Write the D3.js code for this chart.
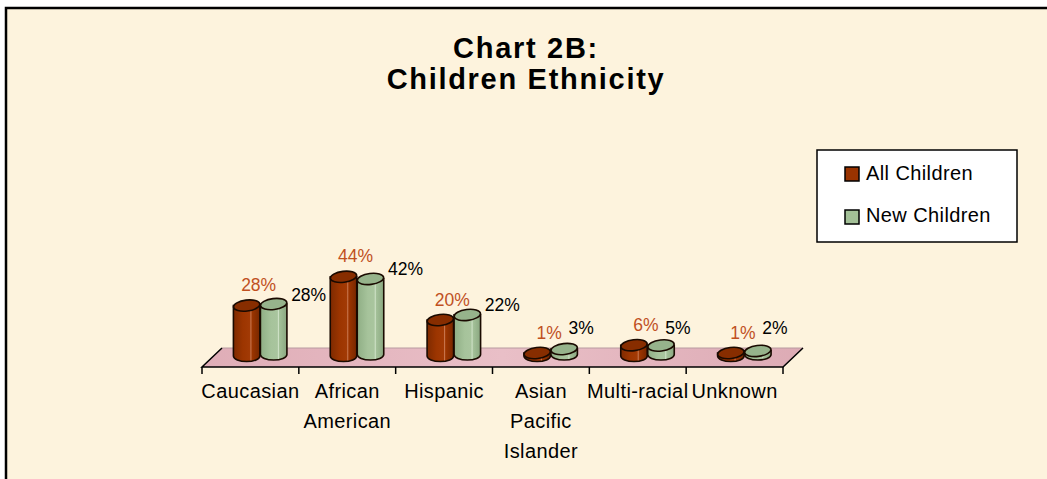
<!DOCTYPE html>
<html>
<head>
<meta charset="utf-8">
<script src="https://cdn.jsdelivr.net/npm/d3@7"></script>
<style>
  html, body { margin: 0; padding: 0; background: #ffffff; }
  text { font-family: "Liberation Sans", Arial, sans-serif; }
</style>
</head>
<body>
<script>
// chart data
const categories = ['Caucasian', 'African American', 'Hispanic', 'Asian Pacific Islander', 'Multi-racial', 'Unknown'];
const categoryLines = [['Caucasian'], ['African', 'American'], ['Hispanic'], ['Asian', 'Pacific', 'Islander'], ['Multi-racial'], ['Unknown']];
const seriesNames = ['All Children', 'New Children'];
const allChildren = [0.28, 0.44, 0.20, 0.01, 0.06, 0.01];
const newChildren = [0.28, 0.42, 0.22, 0.03, 0.05, 0.02];
const titleLines = ['Chart 2B:', 'Children Ethnicity'];

const width = 1047, height = 479;
const colors = { all: '#993300', allLabel: '#c0501f', fresh: '#a3c097' };

const svg = d3.select('body').append('svg')
  .attr('width', width)
  .attr('height', height);

const defs = svg.append('defs');

function hGrad(id, stops) {
  const g = defs.append('linearGradient').attr('id', id)
    .attr('x1', '0%').attr('x2', '100%').attr('y1', '0%').attr('y2', '0%');
  stops.forEach(s => g.append('stop').attr('offset', s[0]).attr('stop-color', s[1]));
}
hGrad('redBody', [['0%', '#7e2a00'], ['35%', '#9c3500'], ['62%', '#a23a05'], ['66%', '#c9774f'], ['70%', '#9c3500'], ['100%', '#772700']]);
hGrad('greenBody', [['0%', '#8fae85'], ['40%', '#a6c39b'], ['64%', '#a9c59e'], ['68%', '#cfe2c7'], ['72%', '#a3c098'], ['100%', '#8aa780']]);
hGrad('floorFill', [['0%', '#dfadb7'], ['50%', '#e9bfc7'], ['100%', '#ddabb5']]);

// frame / background
svg.append('rect')
  .attr('x', 6).attr('y', 8)
  .attr('width', width + 20).attr('height', height + 20)
  .attr('fill', '#fdf3dd')
  .attr('stroke', '#000').attr('stroke-width', 2.5);

// title
svg.append('g').selectAll('text')
  .data(titleLines)
  .join('text')
  .attr('x', 526)
  .attr('y', (d, i) => 58 + i * 31)
  .attr('text-anchor', 'middle')
  .attr('font-size', 29)
  .attr('font-weight', 'bold')
  .attr('letter-spacing', 1.7)
  .text(d => d);

// scales
const x = d3.scaleBand().domain(categories).range([202, 783]);
const inner = d3.scaleBand().domain(seriesNames).range([0, 54]);
const y = d3.scaleLinear().domain([0, 0.5]).range([0, 90]);

const floorY = 367, depthX = 20, depthY = -19;
const baseY = 356, ry = 5.5;
const barShift = 10 - 27;   // mid-depth offset, pair centred on slot

// floor
svg.append('path')
  .attr('d', `M${x.range()[0]},${floorY} L${x.range()[1]},${floorY} L${x.range()[1] + depthX},${floorY + depthY} L${x.range()[0] + depthX},${floorY + depthY} Z`)
  .attr('fill', 'url(#floorFill)')
  .attr('stroke', 'none');
svg.append('path')
  .attr('d', `M${x.range()[0] + depthX},${floorY + depthY} L${x.range()[1] + depthX},${floorY + depthY}`)
  .attr('stroke', '#b89aa0').attr('stroke-width', 1).attr('fill', 'none');
svg.append('path')
  .attr('d', `M${x.range()[0] + depthX},${floorY + depthY} L${x.range()[0]},${floorY} L${x.range()[1]},${floorY} L${x.range()[1] + depthX},${floorY + depthY}`)
  .attr('stroke', '#000').attr('stroke-width', 1.5).attr('fill', 'none');

// tick marks at category boundaries
const tickXs = categories.map(c => x(c)).concat([x.range()[1]]);
svg.append('g').selectAll('line')
  .data(tickXs)
  .join('line')
  .attr('x1', d => d).attr('x2', d => d)
  .attr('y1', floorY).attr('y2', floorY + 7)
  .attr('stroke', '#000').attr('stroke-width', 1.5);

// category labels
const catG = svg.append('g');
categories.forEach((c, i) => {
  catG.append('text')
    .attr('x', x(c) + x.bandwidth() / 2)
    .attr('text-anchor', 'middle')
    .attr('font-size', 20)
    .attr('letter-spacing', 0.4)
    .selectAll('tspan')
    .data(categoryLines[i])
    .join('tspan')
    .attr('x', x(c) + x.bandwidth() / 2)
    .attr('y', (d, j) => 398 + j * 30)
    .text(d => d);
});

// bars
const barData = [];
categories.forEach((c, i) => {
  barData.push({ cat: c, series: seriesNames[0], value: allChildren[i], body: 'url(#redBody)', top: '#872d00', lift: 0 });
  barData.push({ cat: c, series: seriesNames[1], value: newChildren[i], body: 'url(#greenBody)', top: '#96b38b', lift: -1.5 });
});

const barG = svg.append('g');
barData.forEach(d => {
  const x0 = x(d.cat) + x.bandwidth() / 2 + barShift + inner(d.series);
  const w = inner.bandwidth() - 0.5;
  const x1 = x0 + w;
  const rx = w / 2;
  const yb = baseY + d.lift;
  const yt = yb - Math.max(3, y(d.value));
  d.x0 = x0; d.x1 = x1; d.cx = x0 + rx; d.topY = yt - ry;
  barG.append('path')
    .attr('d', `M${x0},${yt} L${x0},${yb} A${rx},${ry} 0 0 0 ${x1},${yb} L${x1},${yt} Z`)
    .attr('fill', d.body)
    .attr('stroke', '#1a0a00').attr('stroke-width', 1.6);
  barG.append('ellipse')
    .attr('cx', x0 + rx).attr('cy', yt)
    .attr('rx', rx).attr('ry', ry)
    .attr('transform', `rotate(-7, ${x0 + rx}, ${yt})`)
    .attr('fill', d.top)
    .attr('stroke', '#1a0a00').attr('stroke-width', 1.6);
});

// value labels
const fmt = d3.format('.0%');
const labelG = svg.append('g').attr('font-size', 17.5);
barData.forEach(d => {
  if (d.series === seriesNames[0]) {
    labelG.append('text')
      .attr('x', d.cx + 12)
      .attr('y', d.topY - 9)
      .attr('text-anchor', 'middle')
      .attr('fill', colors.allLabel)
      .text(fmt(d.value));
  } else {
    labelG.append('text')
      .attr('x', d.cx + (d.value > 0.1 ? 35 : 17))
      .attr('y', Math.min(d.topY + 2, 334))
      .attr('text-anchor', 'middle')
      .attr('fill', '#000')
      .text(fmt(d.value));
  }
});

// legend
const legend = svg.append('g');
legend.append('rect')
  .attr('x', 817).attr('y', 150)
  .attr('width', 200).attr('height', 92)
  .attr('fill', '#fff')
  .attr('stroke', '#000').attr('stroke-width', 1.5);
const legendFills = [colors.all, colors.fresh];
seriesNames.forEach((s, i) => {
  legend.append('rect')
    .attr('x', 845).attr('y', 167 + i * 43)
    .attr('width', 14).attr('height', 14)
    .attr('fill', legendFills[i])
    .attr('stroke', '#000').attr('stroke-width', 1.5);
  legend.append('text')
    .attr('x', 866).attr('y', 180 + i * 42)
    .attr('font-size', 20)
    .attr('letter-spacing', 0.4)
    .text(s);
});
</script>
</body>
</html>
